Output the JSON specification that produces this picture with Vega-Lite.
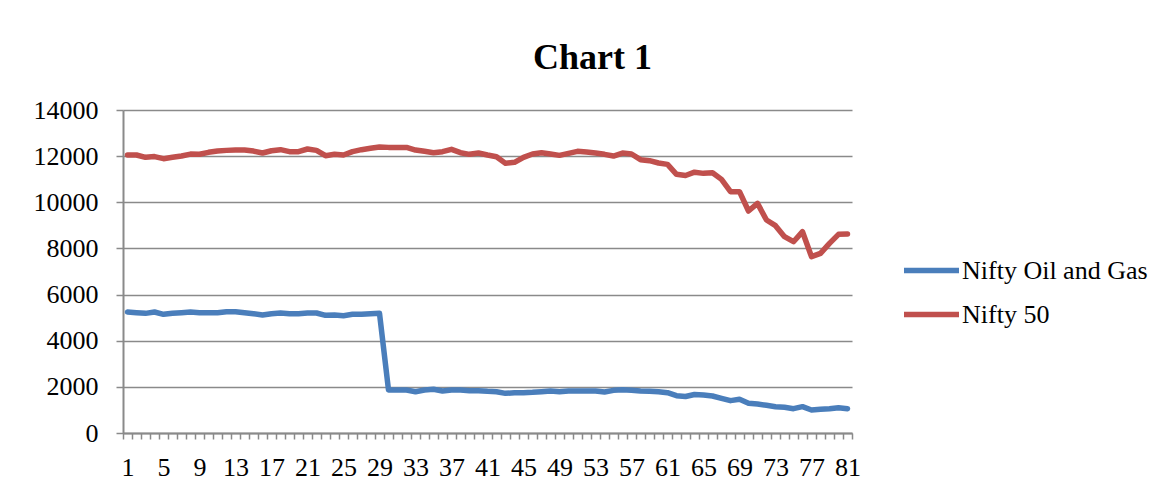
{
  "$schema": "https://vega.github.io/schema/vega-lite/v6.json",
  "autosize": {"type": "none"},
  "padding": {"left": 123, "top": 110, "right": 314, "bottom": 59},
  "width": 729,
  "height": 323,
  "background": "white",
  "title": {
    "text": "Chart 1",
    "font": "Liberation Serif",
    "fontSize": 36,
    "fontWeight": "bold",
    "color": "#000000",
    "anchor": "middle",
    "frame": "group",
    "dx": 105,
    "baseline": "alphabetic",
    "offset": -8
  },
  "data": {
    "values": [
      {"day": 1, "Nifty Oil and Gas": 5244, "Nifty 50": 12050},
      {"day": 2, "Nifty Oil and Gas": 5215, "Nifty 50": 12050},
      {"day": 3, "Nifty Oil and Gas": 5186, "Nifty 50": 11950},
      {"day": 4, "Nifty Oil and Gas": 5244, "Nifty 50": 11980},
      {"day": 5, "Nifty Oil and Gas": 5143, "Nifty 50": 11890},
      {"day": 6, "Nifty Oil and Gas": 5186, "Nifty 50": 11950},
      {"day": 7, "Nifty Oil and Gas": 5215, "Nifty 50": 12005},
      {"day": 8, "Nifty Oil and Gas": 5244, "Nifty 50": 12090},
      {"day": 9, "Nifty Oil and Gas": 5215, "Nifty 50": 12080},
      {"day": 10, "Nifty Oil and Gas": 5215, "Nifty 50": 12165},
      {"day": 11, "Nifty Oil and Gas": 5215, "Nifty 50": 12220},
      {"day": 12, "Nifty Oil and Gas": 5258, "Nifty 50": 12250},
      {"day": 13, "Nifty Oil and Gas": 5258, "Nifty 50": 12265},
      {"day": 14, "Nifty Oil and Gas": 5215, "Nifty 50": 12265},
      {"day": 15, "Nifty Oil and Gas": 5172, "Nifty 50": 12220},
      {"day": 16, "Nifty Oil and Gas": 5114, "Nifty 50": 12135},
      {"day": 17, "Nifty Oil and Gas": 5172, "Nifty 50": 12235},
      {"day": 18, "Nifty Oil and Gas": 5201, "Nifty 50": 12280},
      {"day": 19, "Nifty Oil and Gas": 5172, "Nifty 50": 12195},
      {"day": 20, "Nifty Oil and Gas": 5172, "Nifty 50": 12195},
      {"day": 21, "Nifty Oil and Gas": 5201, "Nifty 50": 12310},
      {"day": 22, "Nifty Oil and Gas": 5201, "Nifty 50": 12250},
      {"day": 23, "Nifty Oil and Gas": 5100, "Nifty 50": 12020},
      {"day": 24, "Nifty Oil and Gas": 5114, "Nifty 50": 12080},
      {"day": 25, "Nifty Oil and Gas": 5085, "Nifty 50": 12050},
      {"day": 26, "Nifty Oil and Gas": 5143, "Nifty 50": 12195},
      {"day": 27, "Nifty Oil and Gas": 5143, "Nifty 50": 12280},
      {"day": 28, "Nifty Oil and Gas": 5172, "Nifty 50": 12340},
      {"day": 29, "Nifty Oil and Gas": 5186, "Nifty 50": 12395},
      {"day": 30, "Nifty Oil and Gas": 1864, "Nifty 50": 12380},
      {"day": 31, "Nifty Oil and Gas": 1864, "Nifty 50": 12380},
      {"day": 32, "Nifty Oil and Gas": 1864, "Nifty 50": 12380},
      {"day": 33, "Nifty Oil and Gas": 1791, "Nifty 50": 12265},
      {"day": 34, "Nifty Oil and Gas": 1864, "Nifty 50": 12208},
      {"day": 35, "Nifty Oil and Gas": 1893, "Nifty 50": 12150},
      {"day": 36, "Nifty Oil and Gas": 1820, "Nifty 50": 12193},
      {"day": 37, "Nifty Oil and Gas": 1864, "Nifty 50": 12294},
      {"day": 38, "Nifty Oil and Gas": 1864, "Nifty 50": 12150},
      {"day": 39, "Nifty Oil and Gas": 1835, "Nifty 50": 12078},
      {"day": 40, "Nifty Oil and Gas": 1835, "Nifty 50": 12135},
      {"day": 41, "Nifty Oil and Gas": 1806, "Nifty 50": 12049},
      {"day": 42, "Nifty Oil and Gas": 1791, "Nifty 50": 11977},
      {"day": 43, "Nifty Oil and Gas": 1719, "Nifty 50": 11688},
      {"day": 44, "Nifty Oil and Gas": 1748, "Nifty 50": 11731},
      {"day": 45, "Nifty Oil and Gas": 1748, "Nifty 50": 11948},
      {"day": 46, "Nifty Oil and Gas": 1762, "Nifty 50": 12092},
      {"day": 47, "Nifty Oil and Gas": 1791, "Nifty 50": 12150},
      {"day": 48, "Nifty Oil and Gas": 1820, "Nifty 50": 12092},
      {"day": 49, "Nifty Oil and Gas": 1791, "Nifty 50": 12034},
      {"day": 50, "Nifty Oil and Gas": 1820, "Nifty 50": 12121},
      {"day": 51, "Nifty Oil and Gas": 1820, "Nifty 50": 12208},
      {"day": 52, "Nifty Oil and Gas": 1820, "Nifty 50": 12179},
      {"day": 53, "Nifty Oil and Gas": 1820, "Nifty 50": 12135},
      {"day": 54, "Nifty Oil and Gas": 1777, "Nifty 50": 12078},
      {"day": 55, "Nifty Oil and Gas": 1849, "Nifty 50": 12005},
      {"day": 56, "Nifty Oil and Gas": 1878, "Nifty 50": 12135},
      {"day": 57, "Nifty Oil and Gas": 1849, "Nifty 50": 12092},
      {"day": 58, "Nifty Oil and Gas": 1820, "Nifty 50": 11847},
      {"day": 59, "Nifty Oil and Gas": 1806, "Nifty 50": 11803},
      {"day": 60, "Nifty Oil and Gas": 1791, "Nifty 50": 11702},
      {"day": 61, "Nifty Oil and Gas": 1748, "Nifty 50": 11644},
      {"day": 62, "Nifty Oil and Gas": 1618, "Nifty 50": 11211},
      {"day": 63, "Nifty Oil and Gas": 1580, "Nifty 50": 11160},
      {"day": 64, "Nifty Oil and Gas": 1670, "Nifty 50": 11305},
      {"day": 65, "Nifty Oil and Gas": 1647, "Nifty 50": 11254},
      {"day": 66, "Nifty Oil and Gas": 1604, "Nifty 50": 11283},
      {"day": 67, "Nifty Oil and Gas": 1503, "Nifty 50": 10994},
      {"day": 68, "Nifty Oil and Gas": 1402, "Nifty 50": 10459},
      {"day": 69, "Nifty Oil and Gas": 1460, "Nifty 50": 10459},
      {"day": 70, "Nifty Oil and Gas": 1286, "Nifty 50": 9621},
      {"day": 71, "Nifty Oil and Gas": 1257, "Nifty 50": 9954},
      {"day": 72, "Nifty Oil and Gas": 1199, "Nifty 50": 9231},
      {"day": 73, "Nifty Oil and Gas": 1141, "Nifty 50": 8986},
      {"day": 74, "Nifty Oil and Gas": 1112, "Nifty 50": 8508},
      {"day": 75, "Nifty Oil and Gas": 1055, "Nifty 50": 8291},
      {"day": 76, "Nifty Oil and Gas": 1141, "Nifty 50": 8725},
      {"day": 77, "Nifty Oil and Gas": 997, "Nifty 50": 7642},
      {"day": 78, "Nifty Oil and Gas": 1026, "Nifty 50": 7787},
      {"day": 79, "Nifty Oil and Gas": 1055, "Nifty 50": 8220},
      {"day": 80, "Nifty Oil and Gas": 1098, "Nifty 50": 8610},
      {"day": 81, "Nifty Oil and Gas": 1055, "Nifty 50": 8625}
    ]
  },
  "transform": [
    {"fold": ["Nifty Oil and Gas", "Nifty 50"], "as": ["series", "value"]}
  ],
  "mark": {"type": "line", "strokeWidth": 5.5, "strokeCap": "round", "strokeJoin": "round"},
  "encoding": {
    "x": {
      "field": "day",
      "type": "ordinal",
      "bandPosition": 0.5,
      "scale": {"type": "band", "paddingInner": 0, "paddingOuter": 0},
      "axis": {
        "title": null,
        "labelAngle": 0,
        "tickBand": "extent",
        "labelExpr": "(datum.value - 1) % 4 == 0 ? datum.label : ''",
        "labelOverlap": false,
        "labelBound": false,
        "labelFont": "Liberation Serif",
        "labelFontSize": 26,
        "labelColor": "#000000",
        "labelPadding": 15,
        "tickSize": 6,
        "tickColor": "#8a8a8a",
        "tickWidth": 1.5,
        "domainColor": "#8a8a8a",
        "domainWidth": 2,
        "grid": false
      }
    },
    "y": {
      "field": "value",
      "type": "quantitative",
      "scale": {"domain": [0, 14000], "nice": false},
      "axis": {
        "title": null,
        "values": [0, 2000, 4000, 6000, 8000, 10000, 12000, 14000],
        "format": "d",
        "labelFont": "Liberation Serif",
        "labelFontSize": 26,
        "labelColor": "#000000",
        "labelPadding": 18,
        "tickSize": 7,
        "tickColor": "#8a8a8a",
        "tickWidth": 1.5,
        "domainColor": "#8a8a8a",
        "domainWidth": 2,
        "grid": true,
        "gridColor": "#8a8a8a",
        "gridWidth": 1.5
      }
    },
    "color": {
      "field": "series",
      "type": "nominal",
      "sort": ["Nifty Oil and Gas", "Nifty 50"],
      "scale": {"domain": ["Nifty Oil and Gas", "Nifty 50"], "range": ["#4A7EBB", "#C0504D"]},
      "legend": {
        "title": null,
        "orient": "none",
        "legendX": 778,
        "legendY": 130,
        "padding": 0,
        "symbolType": "stroke",
        "symbolSize": 3025,
        "symbolStrokeWidth": 5.5,
        "labelFont": "Liberation Serif",
        "labelFontSize": 26,
        "labelColor": "#000000",
        "labelOffset": 0,
        "labelLimit": 400,
        "rowPadding": -9
      }
    }
  },
  "config": {"view": {"stroke": null}}
}
